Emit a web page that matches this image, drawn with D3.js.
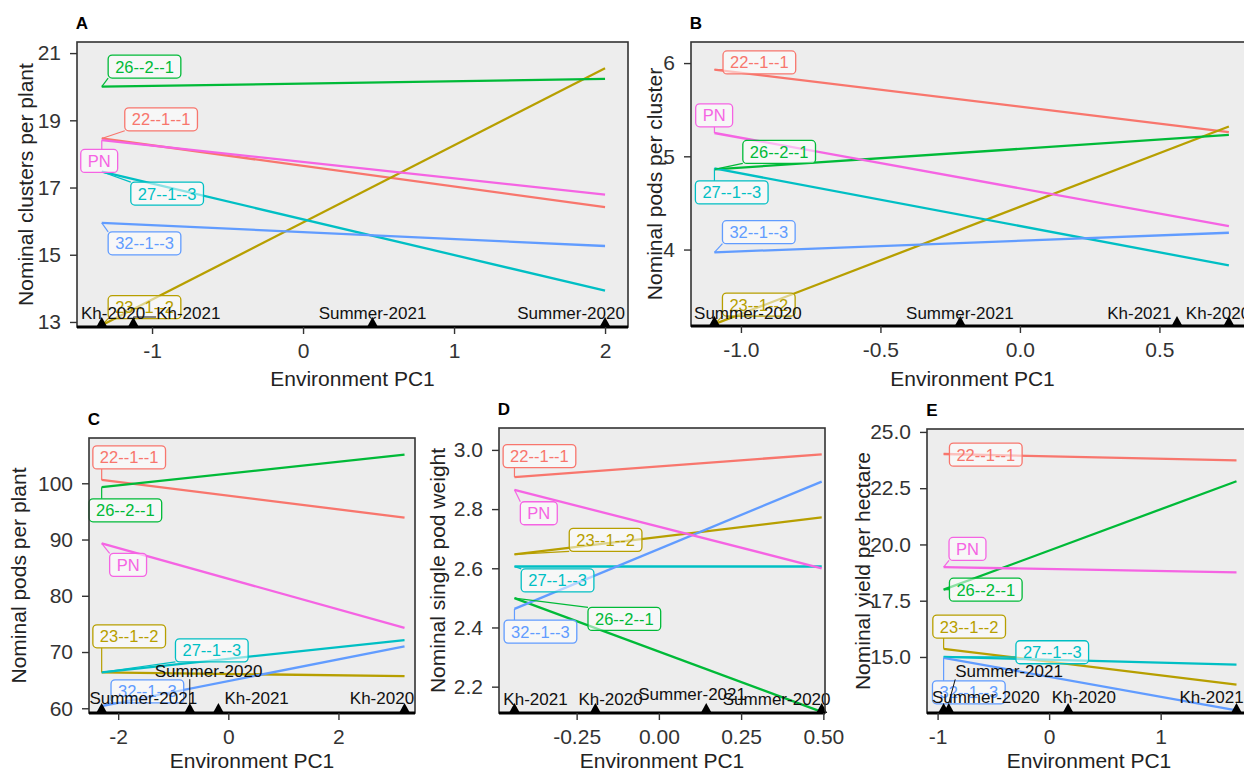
<!DOCTYPE html>
<html>
<head>
<meta charset="utf-8">
<script src="https://cdn.jsdelivr.net/npm/d3@7"></script>
<style>
  body { margin: 0; background: #fff; }
  svg { display: block; font-family: "Liberation Sans", Arial, sans-serif; }
</style>
</head>
<body>
<div id="chart"></div>
<script>
const width = 1244, height = 772;

// genotypes and ggplot hue colours
const genotypes = ["22--1--1", "23--1--2", "26--2--1", "27--1--3", "32--1--3", "PN"];
const colours = ["#F8766D", "#B79F00", "#00BA38", "#00BFC4", "#619CFF", "#F564E3"];

// A - clusters per plant
const envA = ["Kh-2020", "Kh-2021", "Summer-2021", "Summer-2020"];
const pcA = [-1.333, -1.124, 0.46, 2.0];
const startA = [18.46, 12.9, 20.0, 17.47, 15.95, 18.41];   // value at lowest PC1
const endA = [16.42, 20.55, 20.23, 13.93, 15.26, 16.79];   // value at highest PC1
const xTicksA = [-1, 0, 1, 2];
const yTicksA = [13, 15, 17, 19, 21];

// B - pods per cluster
const envB = ["Summer-2020", "Summer-2021", "Kh-2021", "Kh-2020"];
const pcB = [-1.095, -0.214, 0.563, 0.749];
const startB = [5.93, 3.2, 4.86, 4.87, 3.97, 5.25];
const endB = [5.26, 5.32, 5.23, 3.83, 4.18, 4.25];
const xTicksB = [-1, -0.5, 0, 0.5];
const yTicksB = [4, 5, 6];

// C - pods per plant
const envC = ["Summer-2021", "Summer-2020", "Kh-2021", "Kh-2020"];
const pcC = [-2.3, -0.7, -0.18, 3.2];
const startC = [100.6, 66.4, 99.3, 66.4, 60.4, 89.3];
const endC = [93.9, 65.7, 105.1, 72.1, 71.0, 74.3];
const xTicksC = [-2, 0, 2];
const yTicksC = [60, 70, 80, 90, 100];

// D - single pod weight
const envD = ["Kh-2021", "Kh-2020", "Summer-2021", "Summer-2020"];
const pcD = [-0.439, -0.193, 0.144, 0.495];
const startD = [2.908, 2.647, 2.499, 2.606, 2.463, 2.865];
const endD = [2.985, 2.772, 2.115, 2.606, 2.893, 2.60];
const xTicksD = [-0.25, 0, 0.25, 0.5];
const yTicksD = [2.2, 2.4, 2.6, 2.8, 3.0];

// E - yield per hectare
const envE = ["Summer-2020", "Summer-2021", "Kh-2020", "Kh-2021"];
const pcE = [-0.946, -0.90, 0.17, 1.68];
const startE = [24.02, 15.36, 17.99, 15.0, 14.96, 18.99];
const endE = [23.74, 13.77, 22.81, 14.66, 12.63, 18.76];
const xTicksE = [-1, 0, 1];
const yTicksE = [15, 17.5, 20, 22.5, 25];

// ---- layout (panel boxes, label placement in data units) ----
const noMinus = f => v => f(v).replace("\u2212", "-");

const panels = [
  { id: "A", ytitle: "Nominal clusters per plant", env: envA, pc: pcA, start: startA, end: endA,
    xTicks: xTicksA, yTicks: yTicksA, xFmt: noMinus(d3.format("d")), yFmt: noMinus(d3.format("d")),
    box: { x0: 77, y0: 42, x1: 628, y1: 327 }, xDomain: [-1.497, 2.152], yDomain: [12.85, 21.33],
    yTitleGap: 52, xTitleGap: 51,
    labelPos: [[-0.94, 19.03], [-1.05, 13.44], [-1.05, 20.6], [-0.9, 16.82], [-1.05, 15.34], [-1.35, 17.79]],
    envPos: [[-1.258, 13.26], [-0.76, 13.26], [0.46, 13.26], [1.775, 13.26]] },
  { id: "B", ytitle: "Nominal pods per cluster", env: envB, pc: pcB, start: startB, end: endB,
    xTicks: xTicksB, yTicks: yTicksB, xFmt: noMinus(d3.format(".1f")), yFmt: noMinus(d3.format("d")),
    box: { x0: 691, y0: 42, x1: 1254, y1: 326 }, xDomain: [-1.179, 0.839], yDomain: [3.18, 6.226],
    yTitleGap: 37, xTitleGap: 52,
    labelPos: [[-0.934, 6.007], [-0.936, 3.41], [-0.863, 5.047], [-1.033, 4.613], [-0.936, 4.186], [-1.096, 5.44]],
    envPos: [[-0.975, 3.31], [-0.215, 3.31], [0.428, 3.31], [0.71, 3.31]] },
  { id: "C", ytitle: "Nominal pods per plant", env: envC, pc: pcC, start: startC, end: endC,
    xTicks: xTicksC, yTicks: yTicksC, xFmt: noMinus(d3.format("d")), yFmt: noMinus(d3.format("d")),
    box: { x0: 89, y0: 438, x1: 415, y1: 713 }, xDomain: [-2.53, 3.39], yDomain: [59.16, 108.05],
    yTitleGap: 71, xTitleGap: 47,
    labelPos: [[-1.8, 104.6], [-1.8, 72.8], [-1.87, 95.2], [-0.3, 70.3], [-1.47, 63.0], [-1.82, 85.5]],
    envPos: [[-1.545, 61.8], [-0.36, 66.6], [0.515, 61.8], [2.79, 61.8]] },
  { id: "D", ytitle: "Nominal single pod weight", env: envD, pc: pcD, start: startD, end: endD,
    xTicks: xTicksD, yTicks: yTicksD, xFmt: noMinus(d3.format(".2f")), yFmt: noMinus(d3.format(".1f")),
    box: { x0: 499, y0: 428, x1: 825, y1: 713 }, xDomain: [-0.486, 0.505], yDomain: [2.111, 3.074],
    yTitleGap: 62, xTitleGap: 47,
    labelPos: [[-0.363, 2.979], [-0.162, 2.696], [-0.105, 2.429], [-0.308, 2.559], [-0.36, 2.386], [-0.365, 2.786]],
    envPos: [[-0.375, 2.157], [-0.147, 2.157], [0.101, 2.175], [0.358, 2.155]] },
  { id: "E", ytitle: "Nominal yield per hectare", env: envE, pc: pcE, start: startE, end: endE,
    xTicks: xTicksE, yTicks: yTicksE, xFmt: noMinus(d3.format("d")), yFmt: noMinus(d3.format(".1f")),
    box: { x0: 927, y0: 429, x1: 1251, y1: 713 }, xDomain: [-1.095, 1.81], yDomain: [12.51, 25.13],
    yTitleGap: 65, xTitleGap: 47,
    labelPos: [[-0.568, 23.99], [-0.717, 16.35], [-0.568, 17.99], [0.028, 15.21], [-0.72, 13.43], [-0.732, 19.8]],
    envPos: [[-0.568, 13.18], [-0.359, 14.36], [0.311, 13.18], [1.456, 13.18]] }
];

const svg = d3.select("#chart")
  .append("svg")
  .attr("width", width)
  .attr("height", height);

const nearestOnRect = (px, py, r) => [
  Math.max(r.x0, Math.min(px, r.x1)),
  Math.max(r.y0, Math.min(py, r.y1))
];

panels.forEach(p => {
  const b = p.box;
  const x = d3.scaleLinear().domain(p.xDomain).range([b.x0, b.x1]);
  const y = d3.scaleLinear().domain(p.yDomain).range([b.y1, b.y0]);
  const g = svg.append("g").attr("class", "panel-" + p.id);

  // panel background
  g.append("rect")
    .attr("x", b.x0).attr("y", b.y0)
    .attr("width", b.x1 - b.x0).attr("height", b.y1 - b.y0)
    .attr("fill", "#ededed");

  // reaction-norm lines
  const [pcMin, pcMax] = d3.extent(p.pc);
  const line = d3.line().x(d => x(d[0])).y(d => y(d[1]));
  g.selectAll("path.series")
    .data(genotypes)
    .join("path")
    .attr("class", "series")
    .attr("d", (d, i) => line([[pcMin, p.start[i]], [pcMax, p.end[i]]]))
    .attr("fill", "none")
    .attr("stroke", (d, i) => colours[i])
    .attr("stroke-width", 2.3);

  // genotype labels (repel-style boxes)
  const labG = g.append("g");
  genotypes.forEach((name, i) => {
    const cx = x(p.labelPos[i][0]), cy = y(p.labelPos[i][1]);
    const lg = labG.append("g");
    const t = lg.append("text")
      .attr("x", cx).attr("y", cy)
      .attr("text-anchor", "middle")
      .attr("dominant-baseline", "central")
      .attr("font-size", 16.5)
      .attr("fill", colours[i])
      .text(name);
    const w = t.node().getComputedTextLength() + 14, h = 23;
    const r = { x0: cx - w / 2, y0: cy - h / 2, x1: cx + w / 2, y1: cy + h / 2 };
    const px = x(pcMin), py = y(p.start[i]);
    const [nx, ny] = nearestOnRect(px, py, r);
    if (Math.hypot(nx - px, ny - py) > 4) {
      lg.insert("line", "text")
        .attr("x1", px).attr("y1", py).attr("x2", nx).attr("y2", ny)
        .attr("stroke", colours[i]).attr("stroke-width", 1.2);
    }
    lg.insert("rect", "text")
      .attr("x", r.x0).attr("y", r.y0)
      .attr("width", w).attr("height", h)
      .attr("rx", 4)
      .attr("fill", "#fff").attr("fill-opacity", 0.55)
      .attr("stroke", colours[i]).attr("stroke-width", 1.3);
  });

  // environment markers
  g.selectAll("path.env")
    .data(p.pc)
    .join("path")
    .attr("class", "env")
    .attr("d", d => `M${x(d) - 5.5},${b.y1}L${x(d) + 5.5},${b.y1}L${x(d)},${b.y1 - 10}Z`)
    .attr("fill", "#000");

  // environment labels
  p.env.forEach((name, i) => {
    const tx = x(p.envPos[i][0]), ty = y(p.envPos[i][1]);
    const t = g.append("text")
      .attr("x", tx).attr("y", ty)
      .attr("text-anchor", "middle")
      .attr("dominant-baseline", "central")
      .attr("font-size", 17)
      .attr("fill", "#111")
      .text(name);
    const w = t.node().getComputedTextLength();
    const r = { x0: tx - w / 2, y0: ty - 8, x1: tx + w / 2, y1: ty + 8 };
    const px = x(p.pc[i]), py = b.y1 - 10;
    const [nx, ny] = nearestOnRect(px, py, r);
    if (Math.hypot(nx - px, ny - py) > 8) {
      g.append("line")
        .attr("x1", px).attr("y1", py).attr("x2", nx).attr("y2", ny)
        .attr("stroke", "#111").attr("stroke-width", 1);
    }
  });

  // frame
  g.append("rect")
    .attr("x", b.x0).attr("y", b.y0)
    .attr("width", b.x1 - b.x0).attr("height", b.y1 - b.y0)
    .attr("fill", "none").attr("stroke", "#333").attr("stroke-width", 1.6);
  g.append("line")
    .attr("x1", b.x0).attr("x2", b.x1).attr("y1", b.y1).attr("y2", b.y1)
    .attr("stroke", "#000").attr("stroke-width", 3);

  // axes
  const leftAxis = d3.axisLeft(y).tickValues(p.yTicks).tickFormat(p.yFmt).tickSize(7).tickPadding(9);
  const bottomAxis = d3.axisBottom(x).tickValues(p.xTicks).tickFormat(p.xFmt).tickSize(7).tickPadding(9);
  [[leftAxis, `translate(${b.x0},0)`], [bottomAxis, `translate(0,${b.y1})`]].forEach(([ax, tr]) => {
    const a = g.append("g").attr("transform", tr).call(ax)
      .attr("font-size", null).attr("font-family", null);
    a.select(".domain").remove();
    a.selectAll(".tick line").attr("stroke", "#333").attr("stroke-width", 1.4);
    a.selectAll(".tick text").attr("fill", "#333").style("font-size", "21px");
  });

  // axis titles
  g.append("text")
    .attr("x", (b.x0 + b.x1) / 2).attr("y", b.y1 + p.xTitleGap)
    .attr("text-anchor", "middle").attr("dominant-baseline", "central")
    .attr("font-size", 21).attr("fill", "#222")
    .text("Environment PC1");
  g.append("text")
    .attr("transform", `translate(${b.x0 - p.yTitleGap},${(b.y0 + b.y1) / 2}) rotate(-90)`)
    .attr("text-anchor", "middle").attr("dominant-baseline", "central")
    .attr("font-size", 21).attr("fill", "#222")
    .text(p.ytitle);

  // panel tag
  g.append("text")
    .attr("x", b.x0 + 5).attr("y", b.y0 - 19)
    .attr("text-anchor", "middle").attr("dominant-baseline", "central")
    .attr("font-size", 17).attr("font-weight", "bold").attr("fill", "#000")
    .text(p.id);
});
</script>
</body>
</html>
